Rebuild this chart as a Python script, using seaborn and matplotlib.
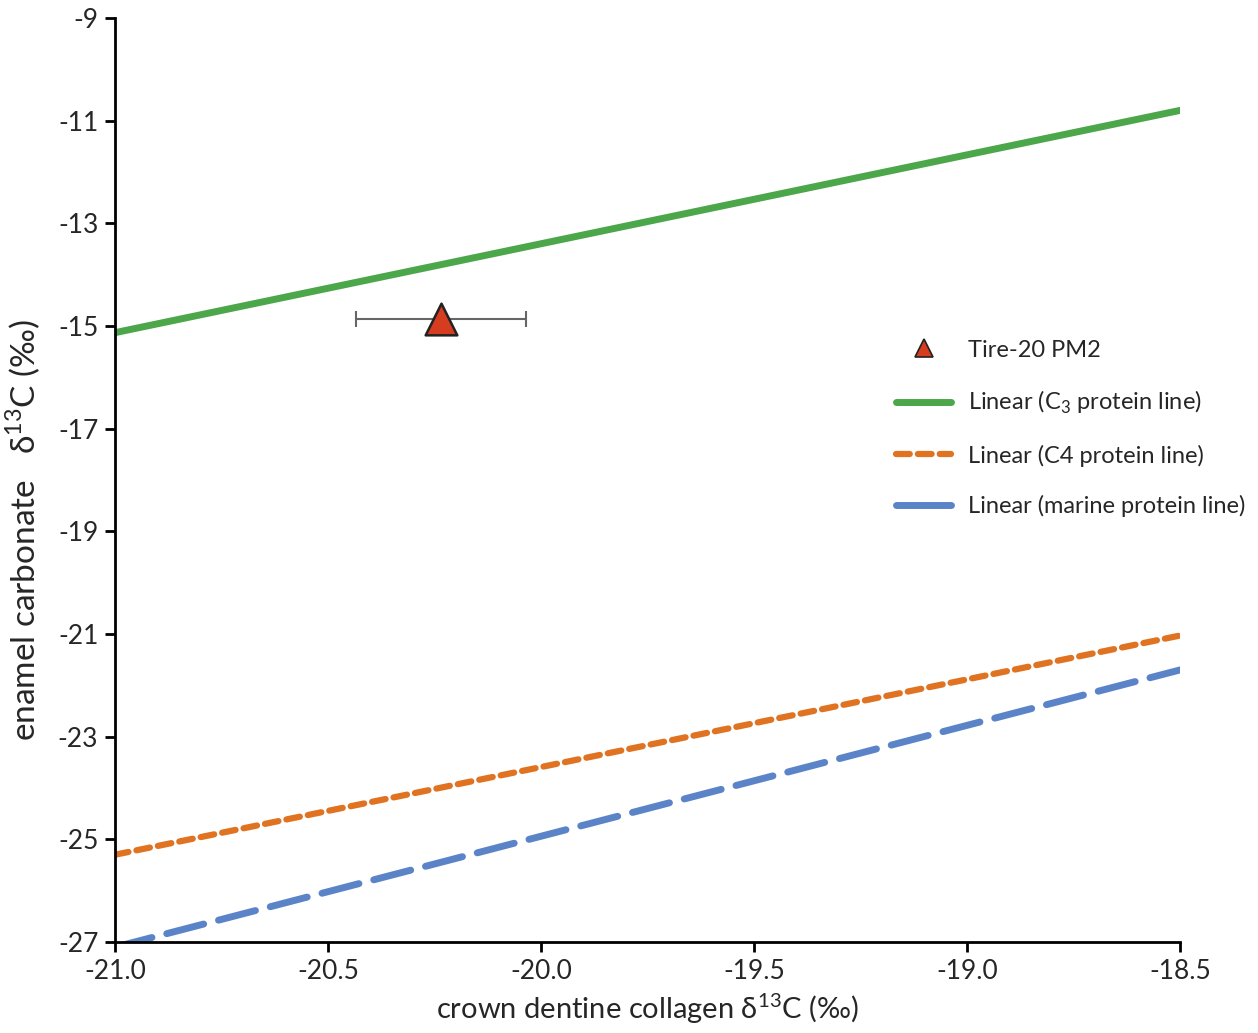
import matplotlib
matplotlib.use("Agg")
import matplotlib.pyplot as plt
from matplotlib.lines import Line2D
import seaborn as sns
import pandas as pd
import numpy as np

# ---- data ----
line_x = [-21.0, -18.5]
c3_y = [-15.13, -10.80]
c4_y = [-25.30, -21.03]
marine_y = [-27.10, -21.70]

sample_x = [-20.235]
sample_y = [-14.86]
sample_xerr = [0.20]

xticks = [-21.0, -20.5, -20.0, -19.5, -19.0, -18.5]
yticks = [-9, -11, -13, -15, -17, -19, -21, -23, -25, -27]

labels = ["Tire-20 PM2", "Linear (C$_3$ protein line)",
          "Linear (C4 protein line)", "Linear (marine protein line)"]

sns.set_style("ticks")
plt.rcParams['font.family'] = ['Lato', 'DejaVu Sans']
plt.rcParams['mathtext.fontset'] = 'custom'
plt.rcParams['mathtext.rm'] = 'Lato'

fig = plt.figure(figsize=(12.58, 10.33), dpi=100)
ax = fig.add_axes([115/1258, 1-942/1033, (1180-115)/1258, (942-18)/1033])

green = '#4ca64a'
orange = '#e07321'
blue = '#5b84c8'
red = '#d63c1f'

df = pd.DataFrame({
    'x': line_x * 3,
    'y': c3_y + c4_y + marine_y,
    'series': ['c3'] * 2 + ['c4'] * 2 + ['marine'] * 2,
})
sns.lineplot(data=df[df.series == 'c3'], x='x', y='y', color=green, lw=5,
             solid_capstyle='round', ax=ax, legend=False)
sns.lineplot(data=df[df.series == 'c4'], x='x', y='y', color=orange, lw=4.5,
             dashes=False, ax=ax, legend=False)
ax.lines[-1].set_linestyle((0, (2.2, 1.3)))
ax.lines[-1].set_dash_capstyle('round')
sns.lineplot(data=df[df.series == 'marine'], x='x', y='y', color=blue, lw=5,
             ax=ax, legend=False)
ax.lines[-1].set_linestyle((0, (5.5, 2.2)))
ax.lines[-1].set_dash_capstyle('round')

ax.errorbar(sample_x, sample_y, xerr=sample_xerr, fmt='none', ecolor='#666666',
            elinewidth=1.5, capsize=6, capthick=1.5, zorder=3)
sns.scatterplot(x=sample_x, y=sample_y, marker='^', s=520, color=red,
                edgecolor='#222222', linewidth=1.8, ax=ax, zorder=4, legend=False)

ax.set_xlim(-21.0, -18.5)
ax.set_ylim(-27, -9)
ax.set_xticks(xticks)
ax.set_xticklabels([f"{v:.1f}" for v in xticks])
ax.set_yticks(yticks)
ax.set_yticklabels([str(v) for v in yticks])
ax.tick_params(axis='both', labelsize=19, length=7, width=2, color='black',
               direction='out', pad=5)
for s in ['top', 'right']:
    ax.spines[s].set_visible(False)
for s in ['left', 'bottom']:
    ax.spines[s].set_linewidth(2)
    ax.spines[s].set_color('black')

ax.set_xlabel("crown dentine collagen δ$^{13}$C (‰)", fontsize=21, labelpad=5)
ax.set_ylabel("enamel carbonate   δ$^{13}$C (‰)", fontsize=24)
ax.yaxis.set_label_coords(-0.068, 1 - (530 - 18) / 924)

handles = [
    Line2D([], [], marker='^', ls='none', markersize=13, markerfacecolor=red,
           markeredgecolor='#222222', markeredgewidth=1.2),
    Line2D([], [], color=green, lw=5, solid_capstyle='round'),
    Line2D([], [], color=orange, lw=4.5, ls=(0, (2.2, 1.3)), dash_capstyle='round'),
    Line2D([], [], color=blue, lw=5, solid_capstyle='round'),
]
ax.legend(handles, labels, loc='upper left', bbox_to_anchor=(0.7134, 0.675),
          frameon=False, fontsize=17, handlelength=2.33, handletextpad=0.72,
          labelspacing=1.2)

sns.despine(ax=ax)
fig.savefig("out.png", dpi=100)
